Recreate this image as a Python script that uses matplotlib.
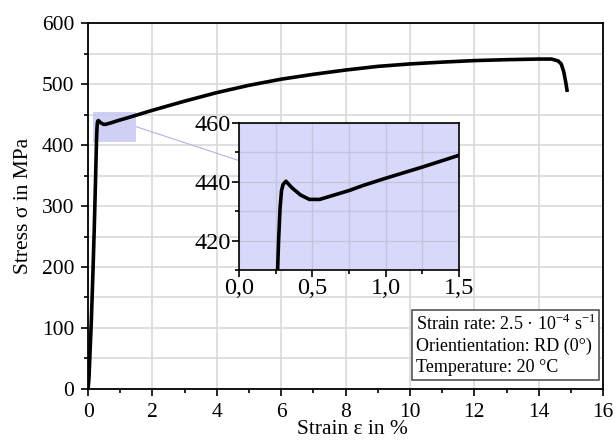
import matplotlib
matplotlib.use("Agg")
import matplotlib.pyplot as plt
from matplotlib.ticker import MultipleLocator, FuncFormatter
from matplotlib.patches import Rectangle
import numpy as np

plt.rcParams['font.family'] = ['Liberation Serif', 'DejaVu Serif']
plt.rcParams['mathtext.fontset'] = 'custom'
plt.rcParams['mathtext.rm'] = 'Liberation Serif'

# stress-strain curve
strain = [0.0, 0.03, 0.06, 0.1, 0.15, 0.19, 0.23, 0.26, 0.27, 0.28, 0.29, 0.30, 0.32,
          0.36, 0.42, 0.48, 0.55, 0.65, 0.75, 0.85, 1.0, 1.25, 1.5, 2.0, 3.0, 4.0,
          5.0, 6.0, 7.0, 8.0, 9.0, 10.0, 11.0, 12.0, 13.0, 14.0, 14.4, 14.6, 14.7,
          14.78, 14.85, 14.88]
stress = [0, 20, 60, 110, 190, 260, 340, 405, 420, 431, 437, 439, 440.2,
          438, 435.5, 434, 434, 435.5, 437, 438.8, 441.2, 445, 449, 457, 472, 486,
          498, 508, 516, 523, 529, 533, 536, 538.5, 540, 541, 541, 538, 533,
          520, 500, 490]

inset_xticks = [0.0, 0.5, 1.0, 1.5]
inset_yticks = [420, 440, 460]
info_lines = ["Strain rate: 2.5 \u00b7 10$^{\u22124}$ s$^{\u22121}$",
              "Orientientation: RD (0\u00b0)",
              "Temperature: 20 \u00b0C"]

fig = plt.figure(figsize=(6.16, 4.44), dpi=100)
ax = fig.add_axes([0.143, 0.124, 0.836, 0.824])

ax.plot(strain, stress, color='black', lw=2.6, zorder=3, solid_joinstyle='round')
ax.set_xlim(0, 16)
ax.set_ylim(0, 600)
ax.xaxis.set_major_locator(MultipleLocator(2))
ax.xaxis.set_minor_locator(MultipleLocator(1))
ax.yaxis.set_major_locator(MultipleLocator(100))
ax.yaxis.set_minor_locator(MultipleLocator(50))
ax.grid(True, which='major', color='#d9d9d9', lw=1.2, zorder=0)
ax.grid(True, which='minor', axis='y', color='#d9d9d9', lw=1.2, zorder=0)
ax.tick_params(which='major', direction='out', length=5, width=1.2, labelsize=15.5,
               top=False, right=False, pad=5)
ax.tick_params(which='minor', direction='out', length=3, width=1.2)
for s in ax.spines.values():
    s.set_linewidth(1.3)
ax.set_xlabel("Strain \u03b5 in %", fontsize=15.5, labelpad=0)
ax.xaxis.set_label_coords(0.514, -0.085)
ax.set_ylabel("Stress \u03c3 in MPa", fontsize=15.5, labelpad=6)

# zoom region marker + connector
ax.add_patch(Rectangle((0.15, 405), 1.35, 50, facecolor='#c8c8f4', edgecolor='none',
                       alpha=0.85, zorder=2))
ax.plot([1.5, 4.66], [430, 375], color='#b0b0f0', lw=0.8, zorder=2)

# info box
ax.text(0.636, 0.205, "\n".join(info_lines), transform=ax.transAxes, fontsize=13,
        va='top', ha='left', linespacing=1.3, zorder=5,
        bbox=dict(boxstyle='square,pad=0.2', facecolor='white', edgecolor='#555555', lw=1.2))

# inset
axi = fig.add_axes([0.388, 0.392, 0.357, 0.331])
axi.set_facecolor('#d8d8fa')
axi.plot(strain, stress, color='black', lw=2.6, zorder=3)
axi.set_xlim(0, 1.5)
axi.set_ylim(410, 460)
axi.set_xticks(inset_xticks)
axi.set_yticks(inset_yticks)
axi.xaxis.set_minor_locator(MultipleLocator(0.25))
axi.yaxis.set_minor_locator(MultipleLocator(10))
axi.xaxis.set_major_formatter(FuncFormatter(lambda v, p: f"{v:.1f}".replace('.', ',')))
axi.grid(True, which='both', color='#c4c4de', lw=1.0, zorder=0)
axi.tick_params(which='major', direction='out', length=5, width=1.2, labelsize=17.5, pad=1)
axi.tick_params(which='minor', direction='out', length=3, width=1.2)
for s in axi.spines.values():
    s.set_linewidth(1.2)

fig.savefig("out.png", dpi=100)
